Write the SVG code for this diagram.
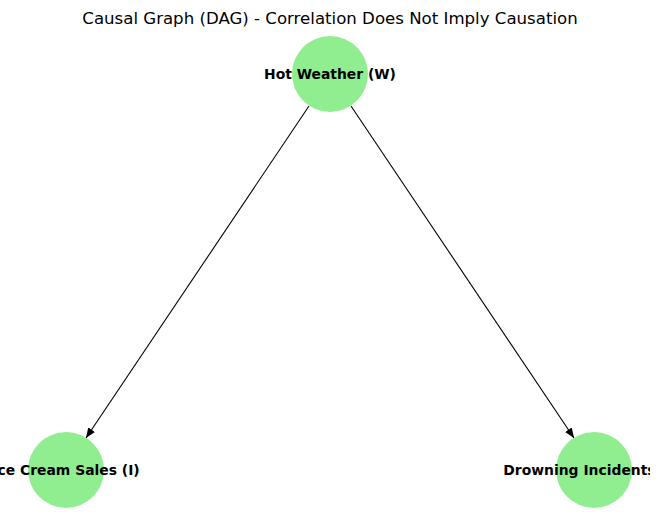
<svg xmlns="http://www.w3.org/2000/svg" width="660" height="522" viewBox="0 0 660 522">
<style>
.node{fill:#90ee90}
.lbl{font-family:"DejaVu Sans",sans-serif;font-weight:bold;font-size:13.9px;text-anchor:middle;fill:#000}
.edge{stroke:#000;stroke-width:1.1;fill:none}
</style>
<defs>
<marker id="ah" markerWidth="10" markerHeight="8" refX="10" refY="4" orient="auto" markerUnits="userSpaceOnUse">
<path d="M0,0 L10,4 L0,8 Z" fill="#000"/>
</marker>
<clipPath id="cl"><rect x="0" y="0" width="650" height="522"/></clipPath>
</defs>
<rect width="660" height="522" fill="#fff"/>
<text x="330" y="24" style="font-family:'DejaVu Sans',sans-serif;font-size:16.6px;text-anchor:middle">Causal Graph (DAG) - Correlation Does Not Imply Causation</text>
<g id="connectors">
<line class="edge" x1="309" y1="106" x2="86" y2="438" marker-end="url(#ah)"/>
<line class="edge" x1="351" y1="106" x2="574" y2="438" marker-end="url(#ah)"/>
</g>
<g clip-path="url(#cl)">
<g id="node-W"><circle class="node" cx="330" cy="74" r="38"/><text class="lbl" x="330" y="78.5">Hot Weather (W)</text></g>
<g id="node-I"><circle class="node" cx="66" cy="470" r="38"/><text class="lbl" x="66" y="475">Ice Cream Sales (I)</text></g>
<g id="node-D"><circle class="node" cx="594" cy="470" r="38"/><text class="lbl" x="594" y="475">Drowning Incidents (D)</text></g>
</g>
</svg>
